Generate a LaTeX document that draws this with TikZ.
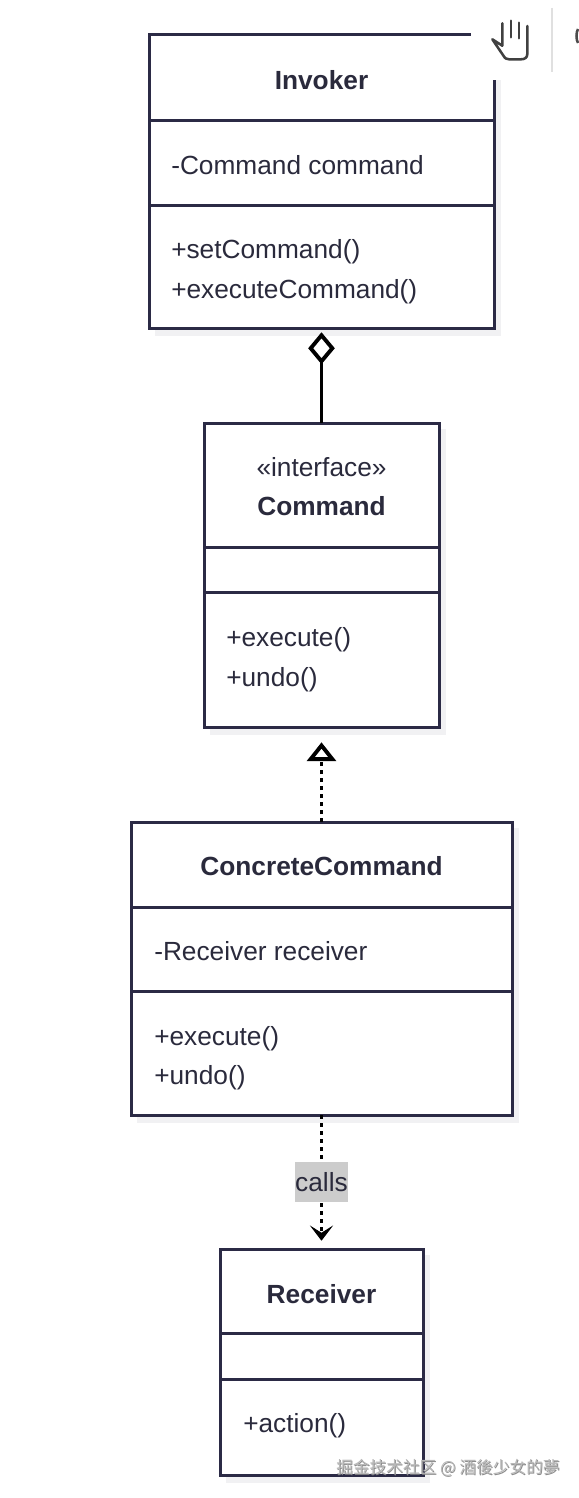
\documentclass[tikz,border=0pt]{standalone}
\usepackage{fontspec}
\setmainfont{Liberation Sans}
\newfontfamily\cjkwm{Noto Sans CJK TC}
\usetikzlibrary{arrows.meta,calc}
\definecolor{umlink}{HTML}{2B2A45}
\definecolor{umltext}{HTML}{2A2A3C}
\definecolor{umlshadow}{HTML}{F1F1F3}
\newcommand{\fs}{\fontsize{19.7pt}{24pt}\selectfont}
\tikzset{
  x=.75pt,y=-.75pt,
  umlbox/.style={draw=umlink,line width=2.25pt,fill=white,rectangle,inner sep=0pt,outer sep=0pt,anchor=north west},
  umlshade/.style={fill=umlshadow,draw=none},
  divider/.style={draw=umlink,line width=2.25pt},
  title/.style={font=\fs\bfseries,text=umltext,inner sep=0pt,anchor=mid},
  member/.style={font=\fs,text=umltext,inner sep=0pt,anchor=mid west},
  center text/.style={font=\fs,text=umltext,inner sep=0pt,anchor=mid},
  link/.style={draw=black,line width=2.9pt},
  dottedlink/.style={link,dash pattern=on 2.8pt off 3.2pt},
  edgelabel/.style={fill=black!20,text=umltext,font=\fs,inner sep=0pt,minimum width=39.7pt,minimum height=29.7pt},
  toolicon/.style={draw=black!75,line width=1.9pt,line cap=round,line join=round},
}
\begin{document}
\begin{tikzpicture}
\useasboundingbox[fill=white] (0,0) rectangle (578,1498);
% shadows
\fill[umlshade] (155,41) rectangle (501,336);
\fill[umlshade] (210,429) rectangle (446,735);
\fill[umlshade] (137,828) rectangle (519,1123);
\fill[umlshade] (226,1255) rectangle (430,1483);
% boxes
\node[umlbox,minimum width=258.75pt,minimum height=219.75pt] (invoker) at (149,35) {};
\node[umlbox,minimum width=176.25pt,minimum height=228pt] (command) at (204,423) {};
\node[umlbox,minimum width=285.75pt,minimum height=219.75pt] (concrete) at (131,822) {};
\node[umlbox,minimum width=152.25pt,minimum height=169.5pt] (receiver) at (220,1249) {};
% dividers
\draw[divider] (invoker.west |- 0,120.5) -- (invoker.east |- 0,120.5);
\draw[divider] (invoker.west |- 0,205.5) -- (invoker.east |- 0,205.5);
\draw[divider] (command.west |- 0,547.5) -- (command.east |- 0,547.5);
\draw[divider] (command.west |- 0,592.5) -- (command.east |- 0,592.5);
\draw[divider] (concrete.west |- 0,907.5) -- (concrete.east |- 0,907.5);
\draw[divider] (concrete.west |- 0,991.5) -- (concrete.east |- 0,991.5);
\draw[divider] (receiver.west |- 0,1333.5) -- (receiver.east |- 0,1333.5);
\draw[divider] (receiver.west |- 0,1379.5) -- (receiver.east |- 0,1379.5);
% texts
\node[title] (t1) at (321.5,86) {Invoker};
\node[member] (t2) at (171,171) {-Command command};
\node[member] (t3) at (171,255) {+setCommand()};
\node[member] (t4) at (171,295) {+executeCommand()};
\node[center text] (t5) at (321.5,473) {«interface»};
\node[title] (t6) at (321.5,512) {Command};
\node[member] (t7) at (226,643) {+execute()};
\node[member] (t8) at (226,683) {+undo()};
\node[title] (t9) at (321.5,872) {ConcreteCommand};
\node[member] (t10) at (154,957) {-Receiver receiver};
\node[member] (t11) at (154,1042) {+execute()};
\node[member] (t12) at (154,1081) {+undo()};
\node[title] (t13) at (321.5,1300) {Receiver};
\node[member] (t14) at (243,1429) {+action()};
% connectors
\draw[link,shorten >=3.2pt,-{Kite[open,fill=white,length=24pt,width=20pt,inset=12pt,line width=2.9pt]}] (command.north) -- (invoker.south);
\draw[dottedlink,shorten >=11.5pt,-{Triangle[open,fill=white,length=14pt,width=21.5pt,line width=2.9pt]}] (concrete.north) -- (command.south);
\draw[dottedlink,shorten >=6.2pt,-{Stealth[length=11.5pt,width=17.5pt,inset=5.5pt,fill=black,line width=.8pt]}] (concrete.south) -- node[edgelabel,pos=.5] (calls) {calls} (receiver.north);
% toolbar fragment
\fill[white] (471,15) rectangle (578,80);
\draw[toolicon] (502.3,23.3) -- (502.3,45.7) -- (492.3,39.3) -- (503.3,55.5) .. controls (505,58.5) and (506.5,59.3) .. (509,59.3) -- (521,59.3) .. controls (525,59.3) and (527.3,57.5) .. (527.3,54) -- (527.3,26);
\draw[toolicon] (511,20.7) -- (511,37.3);
\draw[toolicon] (519,22.7) -- (519,38.3);
\draw[draw=black!12,line width=1.5pt] (552,8) -- (552,72);
\draw[draw=black!70,line width=1.9pt] (578,29) .. controls (576,32) and (576,40) .. (578,43);
% watermark
\node[font=\cjkwm\fontsize{12.5pt}{15pt}\selectfont,text=black!45,inner sep=0pt,anchor=mid] (wmshadow) at (448.8,1471) {掘金技术社区 @ 酒後少女的夢};
\node[font=\cjkwm\fontsize{12.5pt}{15pt}\selectfont,text=black!28,inner sep=0pt,anchor=mid] (wm) at (448,1470) {掘金技术社区 @ 酒後少女的夢};
\end{tikzpicture}
\end{document}
